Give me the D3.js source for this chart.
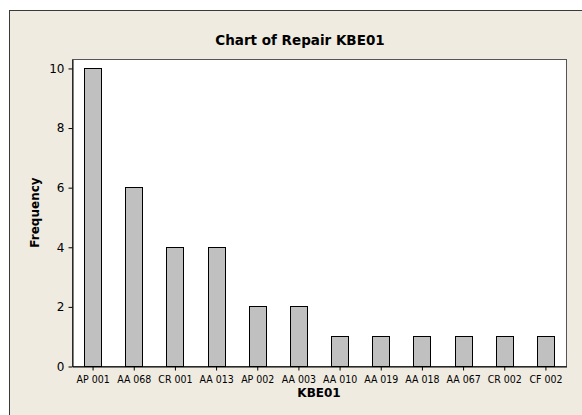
<!DOCTYPE html>
<html>
<head>
<meta charset="utf-8">
<script src="https://cdn.jsdelivr.net/npm/d3@7"></script>
<style>
  body { margin: 0; background: #fff; }
  svg { display: block; }
  text { font-family: Tahoma, "DejaVu Sans", Verdana, sans-serif; fill: #000; }
</style>
</head>
<body>
<div id="chart"></div>
<script>
// values
let categories = ["AP 001", "AA 068", "CR 001", "AA 013", "AP 002", "AA 003",
                  "AA 010", "AA 019", "AA 018", "AA 067", "CR 002", "CF 002"];
let counts = [10, 6, 4, 4, 2, 2, 1, 1, 1, 1, 1, 1];
let yTicks = [0, 2, 4, 6, 8, 10];

let width = 582, height = 415;
let margins = { t: 59, r: 16, b: 49, l: 72 };

let svg = d3.select('#chart').append('svg')
    .attr('width', width)
    .attr('height', height);

// beige frame
svg.append('rect')
    .attr('x', 9.5).attr('y', 10.5)
    .attr('width', width)
    .attr('height', height)
    .attr('fill', '#efebe1')
    .attr('stroke', '#3a3a3a')
    .attr('stroke-width', 1);

let plotW = width - margins.l - margins.r;
let plotH = height - margins.t - margins.b;

let x = d3.scaleBand()
    .domain(categories)
    .range([margins.l, margins.l + plotW])
    .paddingInner(0.59)
    .paddingOuter(0.295);

let y = d3.scaleLinear()
    .domain([0, 10.3])
    .range([margins.t + plotH, margins.t]);

// white data region
svg.append('rect')
    .attr('x', margins.l + 0.5).attr('y', margins.t + 0.5)
    .attr('width', plotW).attr('height', plotH)
    .attr('fill', '#fff')
    .attr('stroke', '#555')
    .attr('stroke-width', 1);

svg.append('g')
    .selectAll('rect')
    .data(counts)
    .join('rect')
    .attr('x', (d, i) => Math.round(x(categories[i])) + 0.5)
    .attr('y', d => Math.round(y(d)) + 0.5)
    .attr('width', Math.round(x.bandwidth()))
    .attr('height', d => Math.round(y(0)) - Math.round(y(d)))
    .attr('fill', '#c0c0c0')
    .attr('stroke', '#000')
    .attr('stroke-width', 1);

let xAxis = svg.append('g')
    .attr('transform', `translate(0.5,${Math.round(y(0)) + 0.5})`)
    .call(d3.axisBottom(x).tickSize(4).tickSizeOuter(0));

let yAxis = svg.append('g')
    .attr('transform', `translate(${margins.l + 0.5},0.5)`)
    .call(d3.axisLeft(y).tickValues(yTicks).tickSize(4).tickSizeOuter(0));

svg.selectAll('.domain, .tick line').attr('stroke', '#000');
xAxis.selectAll('text')
    .attr('font-size', 10.5)
    .attr('dy', '0.9em')
    .style('font-family', '"DejaVu Sans Condensed", "DejaVu Sans", sans-serif');
yAxis.selectAll('text')
    .attr('font-size', 12)
    .attr('dx', '-1px')
    .style('font-family', '"DejaVu Sans", sans-serif');

// titles
svg.append('text')
    .attr('x', 300).attr('y', 45)
    .attr('text-anchor', 'middle')
    .attr('font-size', 13.5)
    .attr('font-weight', 'bold')
    .text('Chart of Repair KBE01');

svg.append('text')
    .attr('x', margins.l + plotW / 2).attr('y', 397)
    .attr('text-anchor', 'middle')
    .attr('font-size', 12)
    .attr('font-weight', 'bold')
    .text('KBE01');

svg.append('text')
    .attr('transform', `translate(39,${margins.t + plotH / 2}) rotate(-90)`)
    .attr('text-anchor', 'middle')
    .attr('font-size', 12)
    .attr('font-weight', 'bold')
    .text('Frequency');
</script>
</body>
</html>
